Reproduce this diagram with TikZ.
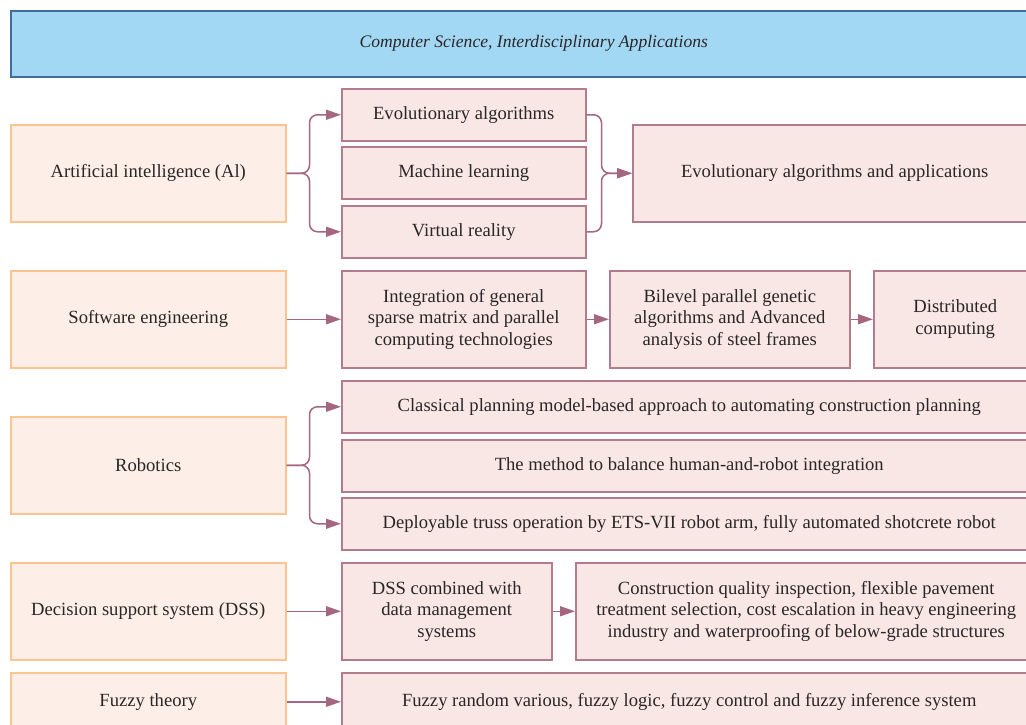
\documentclass[tikz,border=0pt]{standalone}
\usepackage{fontspec}
\setmainfont{Liberation Serif}
\usetikzlibrary{arrows.meta}
\definecolor{hdrfill}{HTML}{A3D8F5}
\definecolor{hdrdraw}{HTML}{3F6E9E}
\definecolor{orfill}{HTML}{FDEFE7}
\definecolor{ordraw}{HTML}{FBC48E}
\definecolor{pkfill}{HTML}{F9E7E5}
\definecolor{pkdraw}{HTML}{B27C8E}
\definecolor{arrcol}{HTML}{A5677F}
\definecolor{txt}{HTML}{2A2627}
\tikzset{
  base/.style={anchor=north west, inner sep=2pt, align=center, text=txt,
    font=\fontsize{18.6}{21.6}\selectfont, line width=1.5pt},
  hdr/.style={base, draw=hdrdraw, fill=hdrfill, font=\fontsize{17.6}{20}\selectfont\itshape},
  lbox/.style={base, draw=ordraw, fill=orfill, minimum width=275pt},
  pbox/.style={base, draw=pkdraw, fill=pkfill},
  conn/.style={draw=arrcol, line width=1.5pt, -{Triangle[length=15pt,width=10pt]}},
  brace/.style={conn, rounded corners=8pt},
}
\begin{document}
\begin{tikzpicture}[x=1pt,y=-1pt]
\useasboundingbox (0,0) rectangle (1026,724);
\clip (0,0) rectangle (1026,724);
% header
\node[hdr, minimum width=1046pt, minimum height=66pt] (H) at (10,10) {Computer Science, Interdisciplinary Applications};
% row 1
\node[lbox, minimum height=97pt] (L1) at (10,124) {Artificial intelligence (Al)};
\node[pbox, minimum width=244pt, minimum height=52pt] (E1) at (341,88) {Evolutionary algorithms};
\node[pbox, minimum width=244pt, minimum height=52pt] (E2) at (341,146) {Machine learning};
\node[pbox, minimum width=244pt, minimum height=52pt] (E3) at (341,205) {Virtual reality};
\node[pbox, minimum width=404pt, minimum height=97pt] (R1) at (632,124) {Evolutionary algorithms and applications};
\draw[brace] (L1.east) -- ++(23,0) |- (E1.west);
\draw[brace] (L1.east) -- ++(23,0) |- (E3.west);
\draw[brace] (E1.east) -- ++(15,0) |- (R1.west);
\draw[brace] (E3.east) -- ++(15,0) |- (R1.west);
% row 2
\node[lbox, minimum height=97pt] (L2) at (10,270) {Software engineering};
\node[pbox, minimum width=244pt, minimum height=97pt] (S1) at (341,270) {Integration of general\\sparse matrix and parallel\\computing technologies};
\node[pbox, minimum width=240pt, minimum height=97pt] (S2) at (609,270) {Bilevel parallel genetic\\algorithms and Advanced\\analysis of steel frames};
\node[pbox, minimum width=163pt, minimum height=97pt] (S3) at (873,270) {Distributed\\computing};
\draw[conn] (L2.east) -- (S1.west);
\draw[conn] (S1.east) -- (S2.west);
\draw[conn] (S2.east) -- (S3.west);
% row 3
\node[lbox, minimum height=97pt] (L3) at (10,416) {Robotics};
\node[pbox, minimum width=695pt, minimum height=52pt] (B1) at (341,380) {Classical planning model-based approach to automating construction planning};
\node[pbox, minimum width=695pt, minimum height=52pt] (B2) at (341,439) {The method to balance human-and-robot integration};
\node[pbox, minimum width=695pt, minimum height=52pt] (B3) at (341,497) {Deployable truss operation by ETS-VII robot arm, fully automated shotcrete robot};
\draw[brace] (L3.east) -- ++(23,0) |- (B1.west);
\draw[brace] (L3.east) -- ++(23,0) |- (B3.west);
% row 4
\node[lbox, minimum height=97pt] (L4) at (10,562) {Decision support system (DSS)};
\node[pbox, minimum width=210pt, minimum height=97pt] (D1) at (341,562) {DSS combined with\\data management\\systems};
\node[pbox, minimum width=461pt, minimum height=97pt] (D2) at (575,562) {Construction quality inspection, flexible pavement\\treatment selection, cost escalation in heavy engineering\\industry and waterproofing of below-grade structures};
\draw[conn] (L4.east) -- (D1.west);
\draw[conn] (D1.east) -- (D2.west);
% row 5
\node[lbox, minimum height=58pt] (L5) at (10,672) {Fuzzy theory};
\node[pbox, minimum width=695pt, minimum height=58pt] (F1) at (341,672) {Fuzzy random various, fuzzy logic, fuzzy control and fuzzy inference system};
\draw[conn] (L5.east) -- (F1.west);
\end{tikzpicture}
\end{document}
